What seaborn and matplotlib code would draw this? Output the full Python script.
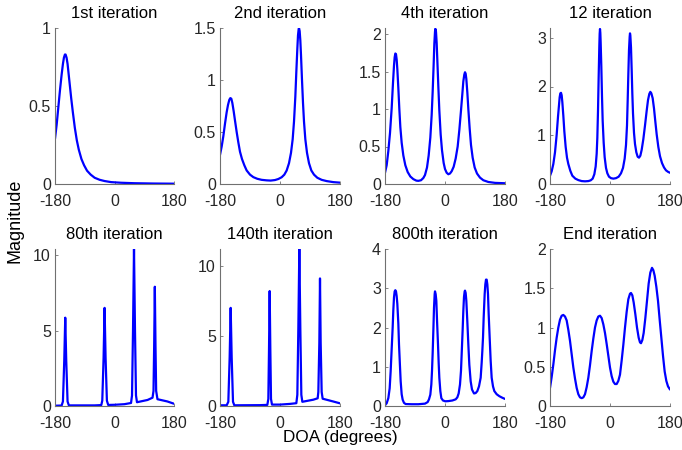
import matplotlib
matplotlib.use("Agg")
import matplotlib.pyplot as plt
import seaborn as sns
import pandas as pd

# ---------------- data ----------------
titles = ["1st iteration", "2nd iteration", "4th iteration", "12 iteration",
          "80th iteration", "140th iteration", "800th iteration", "End iteration"]

it1_x = [-180, -175, -170, -165, -160, -156, -153, -150, -148, -145, -142, -139, -135, -131,
         -126, -120, -114, -108, -100, -92, -83, -72, -60, -45, -30, -10, 20, 60, 120, 180]
it1_y = [0.29, 0.38, 0.49, 0.60, 0.70, 0.77, 0.81, 0.83, 0.83, 0.81, 0.77, 0.71, 0.63, 0.55,
         0.46, 0.36, 0.28, 0.22, 0.16, 0.12, 0.085, 0.06, 0.04, 0.027, 0.019, 0.012, 0.008,
         0.005, 0.003, 0.002]

it2_x = [-180, -175, -170, -165, -160, -156, -152, -149, -146, -143, -139, -135, -130, -125,
         -120, -114, -107, -100, -90, -80, -68, -55, -40, -28, -15, -5, 5, 13, 20, 27, 33, 38,
         42, 46, 49, 52, 54, 56, 57, 59, 61, 63, 66, 69, 72, 76, 81, 87, 94, 102, 112, 125,
         140, 160, 180]
it2_y = [0.28, 0.36, 0.46, 0.58, 0.69, 0.76, 0.81, 0.826, 0.82, 0.78, 0.70, 0.61, 0.50, 0.40,
         0.31, 0.24, 0.18, 0.13, 0.09, 0.066, 0.05, 0.04, 0.035, 0.033, 0.038, 0.048, 0.065,
         0.09, 0.13, 0.2, 0.3, 0.43, 0.6, 0.84, 1.08, 1.3, 1.43, 1.49, 1.5, 1.47, 1.38, 1.24,
         1.0, 0.78, 0.6, 0.43, 0.3, 0.2, 0.13, 0.09, 0.06, 0.04, 0.028, 0.018, 0.013]

it4_x = [-180, -175, -170, -165, -160, -156, -153, -151, -149, -147, -145, -143, -140, -137,
         -134, -130, -125, -119, -112, -104, -95, -86, -80, -72, -65, -60, -54, -49, -44, -40,
         -37, -34, -32, -30, -29, -27, -25, -23, -20, -17, -13, -9, -4, 0, 5, 10, 15, 20, 26,
         32, 38, 43, 48, 52, 55, 58, 60, 62, 64, 67, 70, 74, 78, 83, 89, 96, 105, 115, 130,
         150, 180]
it4_y = [0.15, 0.25, 0.44, 0.68, 1.01, 1.35, 1.58, 1.69, 1.74, 1.73, 1.66, 1.53, 1.28, 1.0,
         0.76, 0.55, 0.38, 0.25, 0.16, 0.1, 0.065, 0.045, 0.042, 0.05, 0.08, 0.12, 0.22, 0.38,
         0.62, 0.92, 1.23, 1.6, 1.87, 2.03, 2.07, 2.03, 1.88, 1.65, 1.3, 0.98, 0.66, 0.45,
         0.28, 0.2, 0.15, 0.13, 0.14, 0.17, 0.23, 0.34, 0.5, 0.72, 0.98, 1.2, 1.37, 1.46, 1.49,
         1.47, 1.4, 1.22, 1.0, 0.74, 0.52, 0.35, 0.22, 0.14, 0.085, 0.05, 0.027, 0.015, 0.01]

it12_x = [-180, -175, -170, -165, -160, -156, -153, -151, -149, -147, -145, -143, -140, -137,
          -133, -129, -125, -119, -113, -104, -95, -85, -75, -65, -58, -52, -47, -43, -40, -38,
          -36, -34, -32, -31, -30, -29, -28, -26, -24, -22, -19, -16, -12, -8, -3, 3, 10, 18,
          26, 33, 39, 44, 48, 51, 53, 55, 57, 59, 60, 61, 63, 65, 67, 69, 72, 75, 79, 83, 87,
          91, 95, 100, 105, 110, 114, 118, 121, 124, 128, 132, 136, 140, 145, 150, 156, 162,
          168, 174, 180]
it12_y = [0.17, 0.26, 0.41, 0.65, 1.01, 1.38, 1.62, 1.78, 1.86, 1.87, 1.82, 1.68, 1.4, 1.08,
          0.76, 0.54, 0.41, 0.27, 0.17, 0.11, 0.08, 0.06, 0.055, 0.06, 0.075, 0.11, 0.2, 0.36,
          0.62, 0.95, 1.5, 2.2, 2.84, 3.08, 3.18, 3.1, 2.9, 2.4, 1.8, 1.3, 0.85, 0.55, 0.33,
          0.22, 0.15, 0.12, 0.11, 0.12, 0.15, 0.22, 0.33, 0.52, 0.8, 1.2, 1.7, 2.25, 2.75, 3.02,
          3.09, 3.05, 2.8, 2.35, 1.85, 1.45, 1.05, 0.82, 0.65, 0.56, 0.54, 0.58, 0.7, 0.92, 1.2,
          1.5, 1.72, 1.85, 1.89, 1.86, 1.76, 1.55, 1.28, 1.02, 0.76, 0.57, 0.43, 0.34, 0.28,
          0.25, 0.23]

it80_x = [-180, -160, -156, -152, -149, -146, -142, -138, -60, -40, -37, -33, -30, -27, -23,
          -19, 0, 30, 50, 53, 56, 59, 62, 65, 68, 100, 115, 118, 120, 122, 124, 126, 130,
          160, 180]
it80_y = [0.02, 0.03, 0.3, 3.0, 5.85, 3.0, 0.3, 0.04, 0.04, 0.06, 0.35, 3.2, 6.5, 3.2, 0.35,
          0.07, 0.08, 0.12, 0.2, 0.7, 5.0, 10.4, 5.0, 0.7, 0.25, 0.4, 0.55, 1.0, 4.0, 7.9, 4.0,
          1.0, 0.45, 0.3, 0.15]

it140_x = [-180, -160, -155, -151, -148, -145, -141, -137, -60, -38, -35, -33, -31, -29, -27,
           -24, 0, 30, 49, 52, 55, 58, 61, 64, 67, 100, 113, 115, 118, 120, 122, 125, 128,
           160, 180]
it140_y = [0.05, 0.05, 0.3, 3.5, 7.0, 3.5, 0.3, 0.05, 0.06, 0.08, 0.5, 4.0, 8.2, 4.0, 0.5,
           0.1, 0.1, 0.15, 0.2, 0.8, 5.5, 11.2, 5.5, 0.8, 0.3, 0.45, 0.55, 1.0, 4.5, 9.1, 4.5,
           1.0, 0.52, 0.32, 0.19]

it800_x = [-180, -175, -170, -166, -163, -160, -157, -155, -153, -151, -149, -147, -145, -143,
           -140, -138, -135, -133, -130, -127, -123, -118, -100, -80, -60, -52, -48, -44, -41,
           -39, -37, -35, -33, -31, -30, -28, -26, -24, -21, -19, -17, -14, -11, -6, 1, 10,
           22, 32, 37, 41, 45, 48, 50, 53, 55, 57, 59, 60, 62, 64, 67, 70, 73, 77, 81, 87, 92,
           97, 102, 107, 110, 112, 114, 116, 119, 121, 123, 125, 127, 129, 131, 134, 137, 140,
           144, 148, 155, 163, 172, 180]
it800_y = [0.02, 0.07, 0.2, 0.45, 0.89, 1.45, 2.0, 2.45, 2.77, 2.92, 2.95, 2.92, 2.8, 2.6,
           2.1, 1.57, 1.0, 0.63, 0.3, 0.16, 0.08, 0.05, 0.045, 0.045, 0.06, 0.1, 0.17, 0.29,
           0.55, 0.89, 1.35, 1.91, 2.5, 2.85, 2.92, 2.85, 2.68, 2.2, 1.57, 1.1, 0.72, 0.38, 0.2,
           0.14, 0.12, 0.125, 0.14, 0.17, 0.22, 0.32, 0.55, 0.9, 1.32, 1.95, 2.43, 2.78, 2.92,
           2.94, 2.88, 2.68, 2.15, 1.57, 1.05, 0.63, 0.42, 0.32, 0.33, 0.38, 0.5, 0.72, 1.1,
           1.4, 1.74, 2.25, 2.85, 3.1, 3.22, 3.22, 3.1, 2.85, 2.35, 1.74, 1.15, 0.72, 0.5, 0.38,
           0.3, 0.25, 0.21, 0.18]

end_x = [-180, -175, -170, -165, -160, -155, -150, -145, -140, -135, -130, -125, -120, -115,
         -110, -105, -100, -95, -90, -85, -80, -75, -70, -65, -60, -55, -50, -45, -40, -35,
         -30, -25, -20, -15, -10, -5, 0, 5, 10, 15, 20, 25, 30, 35, 40, 45, 50, 55, 60, 63,
         67, 71, 76, 81, 86, 90, 93, 97, 101, 106, 111, 116, 121, 126, 130, 134, 139, 144,
         149, 154, 159, 164, 169, 174, 180]
end_y = [0.23, 0.37, 0.53, 0.71, 0.87, 1.0, 1.1, 1.15, 1.16, 1.14, 1.09, 0.97, 0.83, 0.66,
         0.49, 0.35, 0.23, 0.15, 0.11, 0.10, 0.11, 0.15, 0.24, 0.36, 0.52, 0.70, 0.86, 1.0,
         1.09, 1.14, 1.15, 1.12, 1.04, 0.93, 0.79, 0.64, 0.49, 0.38, 0.31, 0.28, 0.28, 0.32,
         0.40, 0.58, 0.78, 1.0, 1.2, 1.36, 1.43, 1.44, 1.41, 1.32, 1.17, 1.0, 0.87, 0.81, 0.80,
         0.84, 0.93, 1.12, 1.34, 1.56, 1.70, 1.76, 1.73, 1.66, 1.52, 1.34, 1.10, 0.87, 0.64,
         0.44, 0.32, 0.25, 0.21]

series_x = [it1_x, it2_x, it4_x, it12_x, it80_x, it140_x, it800_x, end_x]
series_y = [it1_y, it2_y, it4_y, it12_y, it80_y, it140_y, it800_y, end_y]

y_ticks = [[0, 0.5, 1], [0, 0.5, 1, 1.5], [0, 0.5, 1, 1.5, 2], [0, 1, 2, 3],
           [0, 5, 10], [0, 5, 10], [0, 1, 2, 3, 4], [0, 0.5, 1, 1.5, 2]]
y_tops = [1, 1.5, 2.08, 3.2, 10.4, 11.2, 4, 2]
x_ticks = [-180, 0, 180]

# ---------------- style ----------------
sns.set_style("white")
plt.rcParams["font.family"] = ["Liberation Sans", "DejaVu Sans"]

fig = plt.figure(figsize=(6.82, 4.5), dpi=100)

col_left = [55, 220, 385, 550]
col_w = [119, 120, 120, 120]
row_top = [28, 249]
row_h = [156, 157]
W, H = 682.0, 450.0

spine_col = "#707070"
text_col = "#262626"


def fmt(v):
    return "%g" % v


for i in range(8):
    r, c = divmod(i, 4)
    ax = fig.add_axes([col_left[c] / W, 1 - (row_top[r] + row_h[r]) / H,
                       col_w[c] / W, row_h[r] / H])
    df = pd.DataFrame({"DOA": series_x[i], "Magnitude": series_y[i]})
    sns.lineplot(data=df, x="DOA", y="Magnitude", ax=ax, color="#0000ff",
                 linewidth=1.6, sort=False)
    ax.set_xlim(-180, 180)
    ax.set_ylim(0, y_tops[i])
    ax.set_xticks(x_ticks)
    ax.set_xticklabels([fmt(v) for v in x_ticks])
    ax.set_yticks(y_ticks[i])
    ax.set_yticklabels([fmt(v) for v in y_ticks[i]])
    ax.set_xlabel("")
    ax.set_ylabel("")
    ax.set_title(titles[i], fontsize=12, color="black", pad=7)
    for s in ["top", "right"]:
        ax.spines[s].set_visible(False)
    for s in ["left", "bottom"]:
        ax.spines[s].set_color(spine_col)
        ax.spines[s].set_linewidth(0.8)
    ax.tick_params(axis="both", which="major", bottom=True, left=True,
                   direction="in", length=2.5, width=0.6, color=spine_col,
                   labelsize=11.5, labelcolor=text_col)
    ax.tick_params(axis="x", pad=7)
    ax.tick_params(axis="y", pad=3)
    ax.patch.set_alpha(0)

fig.text(0.022, 0.509, "Magnitude", rotation=90, ha="center", va="center",
         fontsize=13, color="black")
fig.text(0.4985, 0.027, "DOA (degrees)", ha="center", va="center",
         fontsize=12.3, color="black")

fig.savefig("out.png", dpi=100)
